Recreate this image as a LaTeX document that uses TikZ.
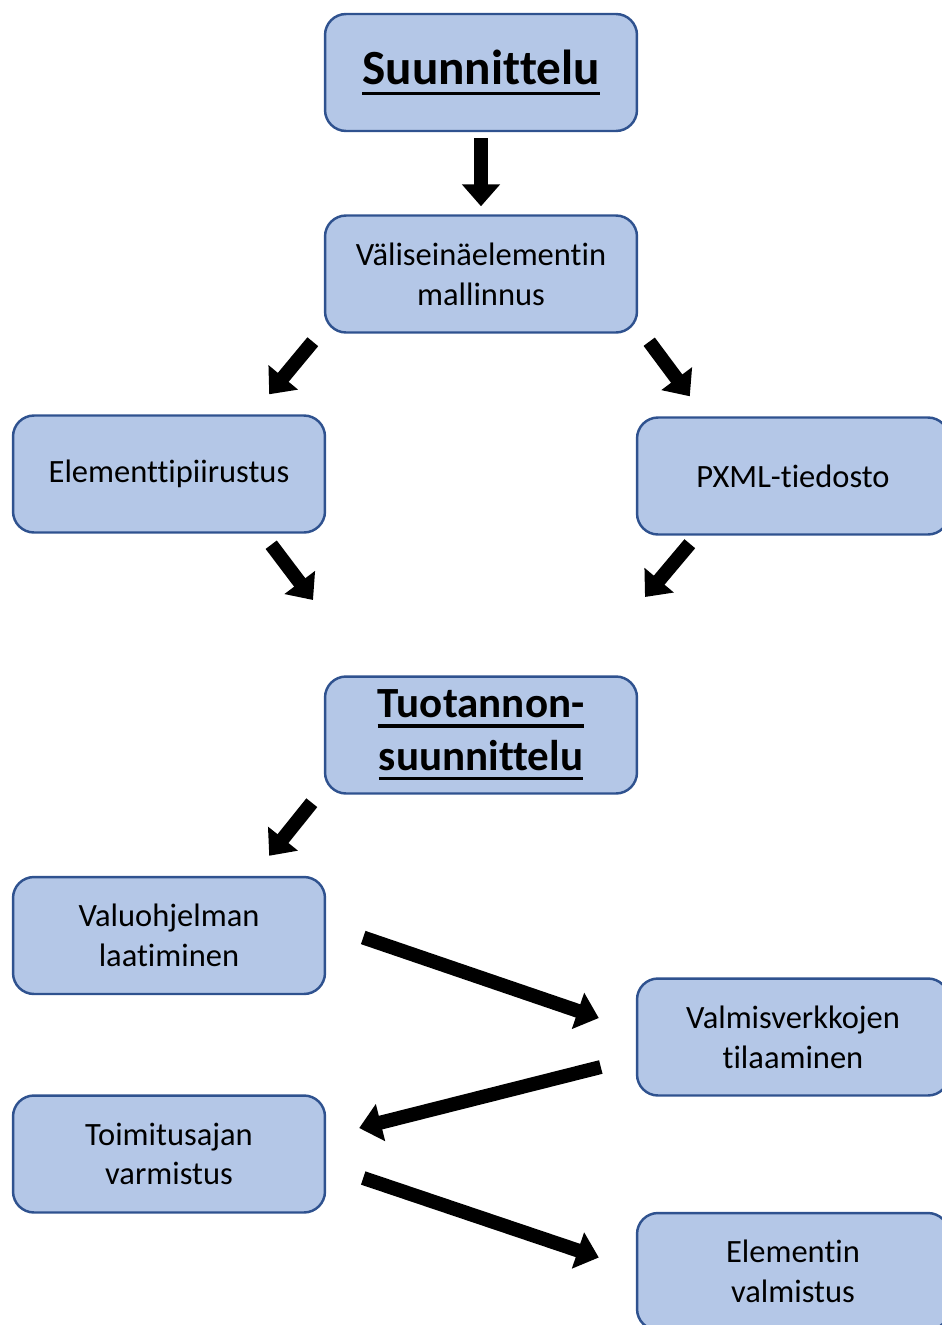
\documentclass[tikz,border=0pt]{standalone}
\usepackage{fontspec}
\setmainfont{Carlito}[Ligatures=NoCommon]
\usetikzlibrary{arrows.meta}

\definecolor{boxfill}{HTML}{B4C7E7}
\definecolor{boxline}{HTML}{2F528F}

% thick underline for the phase titles
\newcommand{\titleul}[1]{\setbox0\hbox{#1}\rlap{\copy0}\rule[-5.6pt]{\wd0}{1.8pt}}

\begin{document}
\begin{tikzpicture}
[x=0.02cm, y=-0.02cm,
StepNode/.style={rectangle, rounded corners=0.42cm, draw=boxline, line width=1.4pt,
  fill=boxfill, minimum width=6.24cm, minimum height=2.34cm, align=center,
  inner sep=0pt, font=\fontsize{18.5}{22.6}\selectfont},
TitleNode/.style={StepNode, font=\fontsize{28}{34}\selectfont\bfseries},
SubTitleNode/.style={StepNode, font=\fontsize{24.5}{30}\selectfont\bfseries},
FlowArrow/.style={line width=0.28cm, black, -{Triangle[width=0.74cm, length=0.44cm]}}
]
\useasboundingbox (0,0) rectangle (941,1325);

\node[TitleNode] (Suunnittelu) at (481,72.5) {\titleul{Suunnittelu}};
\node[StepNode] (Mallinnus) at (481,274) {Väliseinäelementin\\mallinnus};
\node[StepNode] (Piirustus) at (169,474) {Elementtipiirustus};
\node[StepNode] (Pxml) at (793,476) {PXML-tiedosto};
\node[SubTitleNode] (Tuotanto) at (481,735) {\titleul{Tuotannon-}\\\titleul{suunnittelu}};
\node[StepNode] (Valuohjelma) at (169,935.5) {Valuohjelman\\laatiminen};
\node[StepNode] (Verkot) at (793,1037) {Valmisverkkojen\\tilaaminen};
\node[StepNode] (Toimitus) at (169,1154) {Toimitusajan\\varmistus};
\node[StepNode] (Valmistus) at (793,1271.5) {Elementin\\valmistus};

\coordinate (PiirustusEnd) at (313,600);
\coordinate (PxmlEnd) at (645,597);

\draw[FlowArrow, shorten <=0.12cm, shorten >=0.16cm] (Suunnittelu) -- (Mallinnus);
\draw[FlowArrow] ([shift={(-11,8)}]Mallinnus.south west) -- ([shift={(-57,-20)}]Piirustus.north east);
\draw[FlowArrow] ([shift={(11,8)}]Mallinnus.south east) -- ([shift={(54,-20)}]Pxml.north west);
\draw[FlowArrow] ([shift={(-55,11)}]Piirustus.south east) -- (PiirustusEnd);
\draw[FlowArrow] ([shift={(54,8)}]Pxml.south west) -- (PxmlEnd);
\draw[FlowArrow] ([shift={(-12,8)}]Tuotanto.south west) -- ([shift={(-57,-20)}]Valuohjelma.north east);
\draw[FlowArrow] ([shift={(37,2)}]Valuohjelma.east) -- ([shift={(-37,-19)}]Verkot.west);
\draw[FlowArrow] ([shift={(-35,30)}]Verkot.west) -- ([shift={(33,-26)}]Toimitus.east);
\draw[FlowArrow] ([shift={(37,24)}]Toimitus.east) -- ([shift={(-37,-14)}]Valmistus.west);
\end{tikzpicture}
\end{document}
